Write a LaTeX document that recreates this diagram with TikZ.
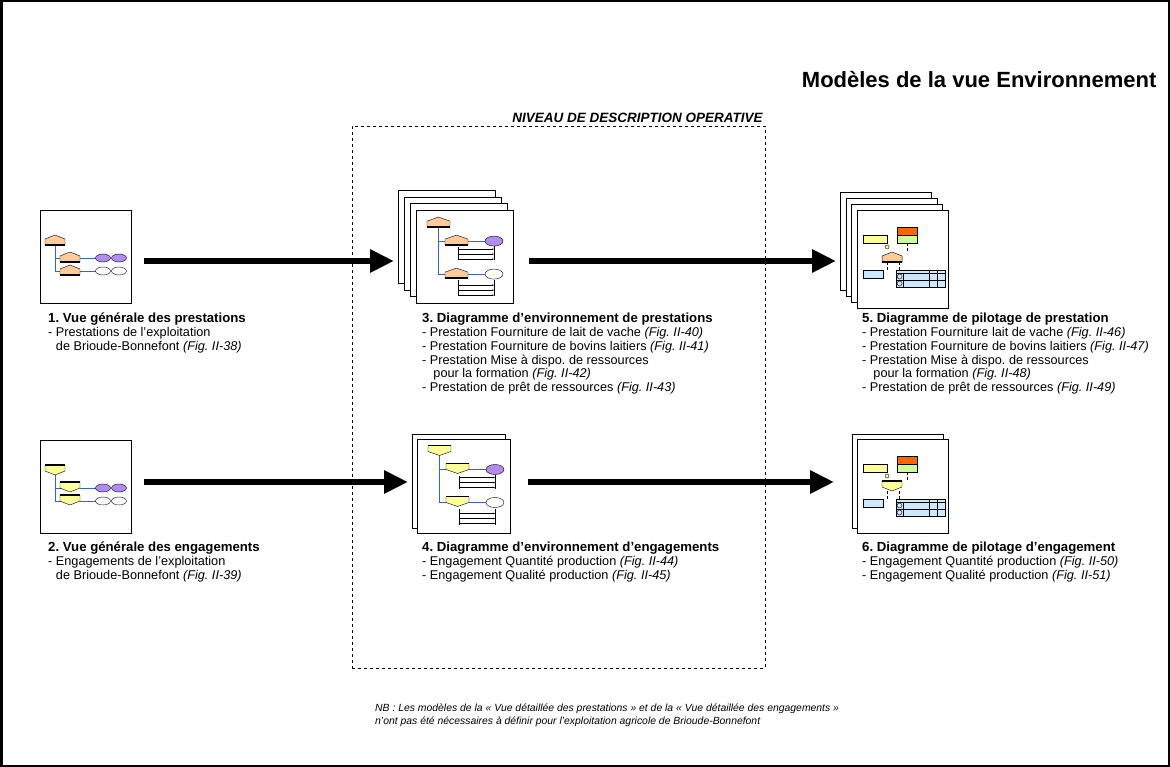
\documentclass[tikz,border=0pt]{standalone}
\usepackage{fontspec}
\setmainfont{Liberation Sans}
\usetikzlibrary{arrows.meta,positioning}
\definecolor{presta}{HTML}{FFCC99}
\definecolor{engag}{HTML}{FFFF99}
\definecolor{acteur}{HTML}{B08CF0}
\definecolor{lien}{HTML}{3366CC}
\definecolor{rouge}{HTML}{FF6600}
\definecolor{vert}{HTML}{CCFF99}
\definecolor{bleu}{HTML}{CCE8FF}

\tikzset{
  page/.style={draw,fill=white,line width=1pt,minimum width=91pt,minimum height=93pt,inner sep=0pt,anchor=north west},
  bigarrow/.style={line width=6pt,-{Triangle[length=24pt,width=22pt]}},
  legende/.style={anchor=north west,align=left,inner sep=0pt,font=\fontsize{12.7}{13.8}\selectfont},
  mini/.style={line width=0.4pt},
}
% petites formes des vignettes
\newcommand{\maison}[3]{%
  \filldraw[mini,fill=presta] (#1,#2+10) -- (#1,#2+4) -- (#1+#3/2,#2) -- (#1+#3,#2+4) -- (#1+#3,#2+10) -- cycle;
  \draw[line width=1.2pt] (#1,#2+10) -- (#1+#3,#2+10);}
\newcommand{\ecusson}[3]{%
  \filldraw[mini,fill=engag] (#1,#2) -- (#1+#3,#2) -- (#1+#3,#2+6) -- (#1+#3/2,#2+10) -- (#1,#2+6) -- cycle;
  \draw[line width=1.2pt] (#1,#2) -- (#1+#3,#2);}
\newcommand{\tete}[1]{{\bfseries\fontsize{13.2}{13.8}\selectfont #1}}
\frenchspacing

\begin{document}
\begin{tikzpicture}[x=1pt,y=-1pt]
  \useasboundingbox (0,0) rectangle (1170,767);
  \draw[line width=2.5pt] (1.25,1.25) rectangle (1168.75,765.75);

  \node[anchor=east,font=\bfseries\fontsize{22}{24}\selectfont] (titre) at (1160,80) {Modèles de la vue Environnement};

  % cadre du niveau operatif
  \node[draw,dashed,line width=0.8pt,minimum width=413pt,minimum height=542pt,anchor=north west] (niveau) at (352,126) {};
  \node[anchor=south east,inner sep=3pt,font=\bfseries\itshape\fontsize{13.5}{15}\selectfont] (niveau-titre) at (niveau.north east) {NIVEAU DE DESCRIPTION OPERATIVE};

  % vues generales
  \node[page] (vue1) at (40,210) {};
  \node[page] (vue2) at (40,440) {};
  \foreach \v/\forme in {vue1/\maison,vue2/\ecusson} {
    \begin{scope}[shift={(\v.north west)}]
      \draw[lien,line width=0.8pt] (15,35) -- (15,61) -- (22,61) (15,48) -- (22,48) (40,48) -- (56,48) (40,61) -- (56,61);
      \forme{5}{25}{20}
      \forme{20}{42}{20}
      \forme{20}{55}{20}
      \filldraw[mini,fill=acteur] (63,48) ellipse [x radius=7.5, y radius=4];
      \filldraw[mini,fill=acteur] (79,48) ellipse [x radius=7.5, y radius=4];
      \filldraw[mini,fill=white] (63,61) ellipse [x radius=7.5, y radius=4];
      \filldraw[mini,fill=white] (79,61) ellipse [x radius=7.5, y radius=4];
    \end{scope}
  }

  % diagrammes d'environnement
  \foreach \i in {0,...,3}
    \node[page,minimum width=97pt] (env3-\i) at ({398+6*\i},{190+6.7*\i}) {};
  \foreach \i in {0,1}
    \node[page,minimum width=93pt,minimum height=94pt] (env4-\i) at ({412+5*\i},{434+4.5*\i}) {};
  \foreach \p/\forme in {env3-3/\maison,env4-1/\ecusson} {
    \begin{scope}[shift={(\p.north west)}]
      \draw[lien,line width=0.8pt] (22,17) -- (22,64) -- (29,64) (22,31) -- (29,31) (52,31) -- (69,31) (52,64) -- (69,64);
      \draw[mini] (42,37) -- (42,50) (78,36) -- (78,50) (42,70) -- (42,86) (78,70) -- (78,86);
      \foreach \y in {39,44,49,75,80,85}
        \draw[mini,-{Stealth[length=2pt]}] (42,\y) -- (78,\y);
      \forme{11}{7}{23}
      \forme{29}{25}{23}
      \forme{29}{58}{23}
      \filldraw[mini,fill=acteur] (78,31) ellipse [x radius=9, y radius=5];
      \filldraw[mini,fill=white] (78,64) ellipse [x radius=9, y radius=5];
    \end{scope}
  }

  % diagrammes de pilotage
  \foreach \i in {0,...,3}
    \node[page,minimum width=91pt,minimum height=98pt] (pil5-\i) at ({840+5.7*\i},{192+6*\i}) {};
  \foreach \i in {0,1}
    \node[page,minimum width=91pt,minimum height=94pt] (pil6-\i) at ({852+5*\i},{434+5*\i}) {};
  \foreach \p/\forme in {pil5-3/\maison,pil6-1/\ecusson} {
    \begin{scope}[shift={(\p.north west)}]
      \filldraw[mini,fill=engag] (6,25) rectangle (30,33);
      \filldraw[mini,fill=rouge] (40,17) rectangle (60,25);
      \filldraw[mini,fill=vert] (40,25) rectangle (60,33);
      \filldraw[mini,fill=engag] (30,37) circle [radius=2];
      \draw[mini,densely dashed] (50,33) -- (50,42) (30,52) -- (30,60) (42,52) -- (42,60);
      \forme{25}{42}{20}
      \filldraw[mini,fill=bleu] (6,60) rectangle (26,68);
      \filldraw[mini,fill=bleu] (39,60) rectangle (88,77);
      \draw[mini] (39,63) -- (88,63) (39,70) -- (88,70) (72,60) -- (72,77) (80,60) -- (80,77) (46,63) -- (46,77);
      \draw[mini] (42.5,66.5) circle [radius=2.5] (42.5,73.5) circle [radius=2.5];
    \end{scope}
  }

  % fleches
  \coordinate (ligne1) at (0,261);
  \coordinate (ligne2) at (0,482);
  \draw[bigarrow,shorten >=4pt] (vue1.east |- ligne1) ++(12,0) -- (env3-0.west |- ligne1);
  \draw[bigarrow,shorten >=4pt] (env3-3.east |- ligne1) ++(15,0) -- (pil5-0.west |- ligne1);
  \draw[bigarrow,shorten >=4pt] (vue2.east |- ligne2) ++(12,0) -- (env4-0.west |- ligne2);
  \draw[bigarrow,shorten >=18pt] (env4-1.east |- ligne2) ++(17,0) -- (pil6-0.west |- ligne2);

  % textes
  \node[legende] (txt1) at (48,313) {\tete{1. Vue générale des prestations}\\
    - Prestations de l’exploitation\\
    \phantom{-}\ de Brioude-Bonnefont \textit{(Fig. II-38)}};
  \node[legende] (txt2) at (48,542) {\tete{2. Vue générale des engagements}\\
    - Engagements de l’exploitation\\
    \phantom{-}\ de Brioude-Bonnefont \textit{(Fig. II-39)}};
  \node[legende] (txt3) at (422,313) {\tete{3. Diagramme d’environnement de prestations}\\
    - Prestation Fourniture de lait de vache \textit{(Fig. II-40)}\\
    - Prestation Fourniture de bovins laitiers \textit{(Fig. II-41)}\\
    - Prestation Mise à dispo. de ressources\\
    \phantom{-}\ \ pour la formation \textit{(Fig. II-42)}\\
    - Prestation de prêt de ressources \textit{(Fig. II-43)}};
  \node[legende] (txt4) at (422,542) {\tete{4. Diagramme d’environnement d’engagements}\\
    - Engagement Quantité production \textit{(Fig. II-44)}\\
    - Engagement Qualité production \textit{(Fig. II-45)}};
  \node[legende] (txt5) at (862,313) {\tete{5. Diagramme de pilotage de prestation}\\
    - Prestation Fourniture lait de vache \textit{(Fig. II-46)}\\
    - Prestation Fourniture de bovins laitiers \textit{(Fig. II-47)}\\
    - Prestation Mise à dispo. de ressources\\
    \phantom{-}\ \ pour la formation \textit{(Fig. II-48)}\\
    - Prestation de prêt de ressources \textit{(Fig. II-49)}};
  \node[legende] (txt6) at (862,542) {\tete{6. Diagramme de pilotage d’engagement}\\
    - Engagement Quantité production \textit{(Fig. II-50)}\\
    - Engagement Qualité production \textit{(Fig. II-51)}};

  \node[anchor=north west,align=left,inner sep=0pt,font=\itshape\fontsize{10.4}{13}\selectfont] (nb) at (375,704)
    {NB : Les modèles de la «~Vue détaillée des prestations~» et de la «~Vue détaillée des engagements~»\\
     n’ont pas été nécessaires à définir pour l’exploitation agricole de Brioude-Bonnefont};
\end{tikzpicture}
\end{document}
